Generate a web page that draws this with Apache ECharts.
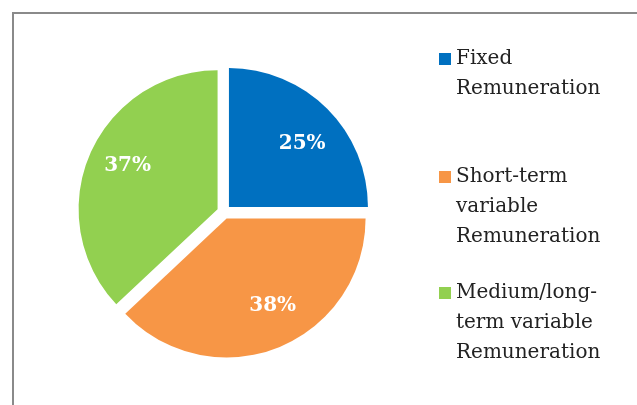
<!DOCTYPE html>
<html>
<head>
<meta charset="utf-8">
<script src="https://cdn.jsdelivr.net/npm/echarts@6/dist/echarts.min.js"></script>
<style>
  html, body { margin: 0; padding: 0; background: #fff; }
  #main { width: 637px; height: 405px; }
</style>
</head>
<body>
<div id="main"></div>
<script>
// 数据
var names = ['Fixed Remuneration', 'Short-term variable Remuneration', 'Medium/long-term variable Remuneration'];
var legendText = ['Fixed\nRemuneration', 'Short-term\nvariable\nRemuneration', 'Medium/long-\nterm variable\nRemuneration'];
var values = [25, 38, 37];
var colors = ['#0070C0', '#F79646', '#92D050'];

var FONT = '"DejaVu Serif", serif';
var LH = 30;
// 标签微调
var labelShift = [[-2, 12], [6, -7], [3, 0]];

var chart = echarts.init(document.getElementById('main'), null, { renderer: 'canvas' });

var pieData = names.map(function (n, i) {
  return { name: n, value: values[i], selected: true, itemStyle: { color: colors[i] } };
});
var labelData = names.map(function (n, i) {
  return { name: n, value: values[i], label: { offset: labelShift[i] } };
});

// 每个图例单独一个，位置各不相同
// 图标居中对齐整段文字，所以前面补空行让图标对齐第一行
var legendTops = [14, 102, 218];
var legends = names.map(function (n, i) {
  var lines = legendText[i].split('\n').length;
  var pad = new Array(lines).join(' \n');
  return {
    orient: 'vertical',
    left: 439,
    top: legendTops[i],
    padding: 0,
    itemWidth: 12,
    itemHeight: 12,
    icon: 'rect',
    selectedMode: false,
    data: [n],
    formatter: function () { return pad + legendText[i]; },
    textStyle: {
      fontFamily: FONT,
      fontSize: 20,
      lineHeight: LH,
      color: '#222'
    }
  };
});

var option = {
  animation: false,
  color: colors,
  legend: legends,
  graphic: [{
    type: 'rect',
    shape: { x: 13, y: 13, width: 640, height: 400 },
    style: { fill: 'none', stroke: '#8a8a8a', lineWidth: 2 },
    silent: true
  }],
  series: [{
    type: 'pie',
    center: [224, 212],
    radius: [0, 139],
    startAngle: 90,
    clockwise: true,
    selectedMode: 'multiple',
    selectedOffset: 7,
    label: { show: false },
    labelLine: { show: false },
    emphasis: { disabled: true },
    select: { itemStyle: {} },
    data: pieData
  }, {
    // 只用来放标签
    type: 'pie',
    center: [226, 210],
    radius: [76, 139],
    startAngle: 90,
    clockwise: true,
    silent: true,
    avoidLabelOverlap: false,
    itemStyle: { color: 'rgba(0,0,0,0)' },
    label: {
      show: true,
      position: 'inside',
      formatter: '{c}%',
      color: '#fff',
      fontFamily: FONT,
      fontWeight: 'bold',
      fontSize: 20
    },
    labelLine: { show: false },
    emphasis: { disabled: true },
    data: labelData
  }]
};

chart.setOption(option);
</script>
</body>
</html>
